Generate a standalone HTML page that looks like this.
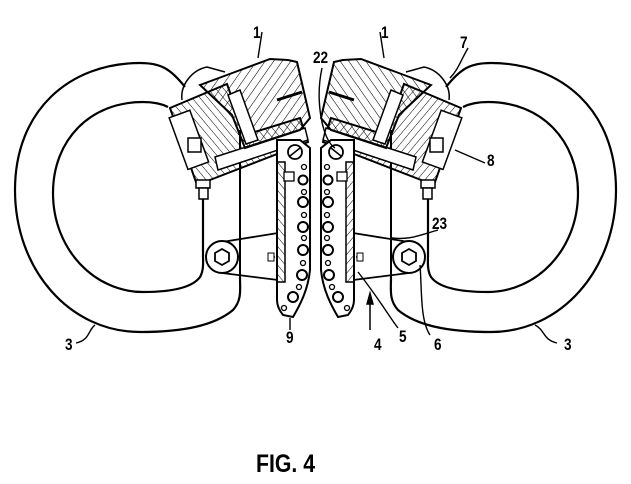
<!DOCTYPE html>
<html><head><meta charset="utf-8"><style>
html,body{margin:0;padding:0;background:#fff;width:631px;height:484px;overflow:hidden}
svg{display:block}
text{font-family:"Liberation Sans",sans-serif;font-weight:bold;fill:#000}
</style></head><body>
<svg width="631" height="484" viewBox="0 0 631 484" xmlns="http://www.w3.org/2000/svg">
<defs>
<pattern id="h" width="7" height="7" patternUnits="userSpaceOnUse" patternTransform="rotate(35)"><line x1="0" y1="0" x2="0" y2="7" stroke="#000" stroke-width="1.1"/></pattern>
<pattern id="h2" width="6" height="6" patternUnits="userSpaceOnUse" patternTransform="rotate(-40)"><line x1="0" y1="0" x2="0" y2="6" stroke="#000" stroke-width="1"/></pattern>
<g id="half">
 <path d="M185,87 C170,68 160,63 140,63 C70,63 15,110 15,190 C15,270 70,332 140,332 C185,332 215,325 233,310 C242,300 240,290 240,277" fill="none" stroke="#000" stroke-width="2.2"/>
 <path d="M168,107 C160,103 152,102 143,102 C90,102 53,140 53,193 C53,250 95,292 143,292 C170,292 192,288 200,277 C204,270 203,262 203,255 L203,185" fill="none" stroke="#000" stroke-width="2.2"/>
 <path d="M182,100 C180,85 192,70 207,67 L225,72" fill="none" stroke="#000" stroke-width="1.5"/>
 <line x1="240" y1="130" x2="240" y2="277" stroke="#000" stroke-width="2"/>
 <path d="M170,108 L227,84 L245,135 L300,118 L308,142 L197,185 Z" fill="url(#h2)" stroke="#000" stroke-width="2"/>
 <rect x="178" y="112" width="22" height="55" transform="rotate(-20 190 140)" fill="#fff" stroke="#000" stroke-width="1.5"/>
 <path d="M215,157 L305,128 L308,140 L218,170 Z" fill="#fff" stroke="#000" stroke-width="1.5"/>
 <path d="M200,85 L235,72 L270,59 L288,60 L297,62 L310,118 L300,130 L245,148 L232,115 Z" fill="url(#h)" stroke="#000" stroke-width="2"/>
 <path d="M228,95 L240,90 L258,140 L246,144 Z" fill="#fff" stroke="#000" stroke-width="1.5"/>
 <path d="M277,100 L302,92" stroke="#000" stroke-width="3"/>
 <rect x="188" y="138" width="13" height="14" fill="#fff" stroke="#000" stroke-width="1.5"/>
 <rect x="196" y="180" width="14" height="8" fill="#fff" stroke="#000" stroke-width="1.5"/>
 <rect x="199" y="188" width="9" height="11" fill="#fff" stroke="#000" stroke-width="1.5"/>
 <path d="M222,242 L278,233 M222,273 L278,280" stroke="#000" stroke-width="1.8" fill="none"/>
 <path d="M280,233 L305,233 M270,257 L305,257 M280,267 L305,267" stroke="#000" stroke-width="1.2" stroke-dasharray="5,3" fill="none"/>
 <rect x="268" y="253" width="6" height="8" fill="#fff" stroke="#000" stroke-width="1"/>
 <circle cx="222" cy="257" r="16" fill="#fff" stroke="#000" stroke-width="2"/>
 <polygon points="222,249 229,253 229,261 222,265 215,261 215,253" fill="none" stroke="#000" stroke-width="1.8"/>
 <path d="M277,140 L300,140 L310,148 L310,270 C308,290 300,305 293,317 L283,315 C279,310 277,305 277,300 Z" fill="#fff" stroke="#000" stroke-width="2"/>
 <rect x="277" y="162" width="8" height="120" fill="url(#h2)" stroke="#000" stroke-width="1.5"/>
 <circle cx="295" cy="152" r="7" fill="#fff" stroke="#000" stroke-width="1.8"/>
 <line x1="290" y1="156" x2="300" y2="148" stroke="#000" stroke-width="1.5"/>
 <rect x="284" y="172" width="10" height="9" fill="#fff" stroke="#000" stroke-width="1.3"/>
 <g fill="none" stroke="#000" stroke-width="2">
  <circle cx="303" cy="180" r="4.5"/><circle cx="303" cy="202" r="5"/><circle cx="303" cy="227" r="5"/><circle cx="303" cy="250" r="5"/><circle cx="302" cy="275" r="5"/><circle cx="293" cy="297" r="5"/>
 </g>
 <g fill="none" stroke="#000" stroke-width="1.3">
  <circle cx="304" cy="167" r="2.5"/><circle cx="304" cy="192" r="2.5"/><circle cx="304" cy="215" r="2.5"/><circle cx="304" cy="238" r="2.5"/><circle cx="303" cy="263" r="2.5"/><circle cx="299" cy="287" r="2.5"/><circle cx="284" cy="308" r="2.5"/>
 </g>
</g>
</defs>
<use href="#half"/>
<use href="#half" transform="translate(631,0) scale(-1,1)"/>
<g fill="none" stroke="#000" stroke-width="1.4">
<path d="M262,32 L258,58 M380,32 L384,58 M468,48 C460,62 458,70 450,78 M322,68 C315,100 322,140 335,148 M485,163 L455,150 M438,230 C420,235 410,240 392,238 M76,343 C90,340 88,330 95,325 M557,343 C543,340 545,330 535,325 M290,330 L290,318 M398,328 C390,318 380,300 358,272 M430,335 C420,320 422,290 420,265"/>
<path d="M370,300 L370,330" stroke-width="1.5"/>
<polygon points="370,293 367,304 373,304" fill="#000"/>
</g>
<g font-size="17">
<text transform="translate(253,38) scale(0.8,1)">1</text><text transform="translate(381,38) scale(0.8,1)">1</text><text transform="translate(460,48) scale(0.8,1)">7</text>
<text transform="translate(313,63) scale(0.8,1)">22</text><text transform="translate(487,166) scale(0.8,1)">8</text><text transform="translate(432,229) scale(0.8,1)">23</text>
<text transform="translate(65,350) scale(0.8,1)">3</text><text transform="translate(564,350) scale(0.8,1)">3</text><text transform="translate(286,343) scale(0.8,1)">9</text>
<text transform="translate(374,350) scale(0.8,1)">4</text><text transform="translate(399,342) scale(0.8,1)">5</text><text transform="translate(434,350) scale(0.8,1)">6</text>
</g>
<text transform="translate(256,472) scale(0.85,1)" font-size="25">FIG. 4</text>
</svg>
</body></html>
